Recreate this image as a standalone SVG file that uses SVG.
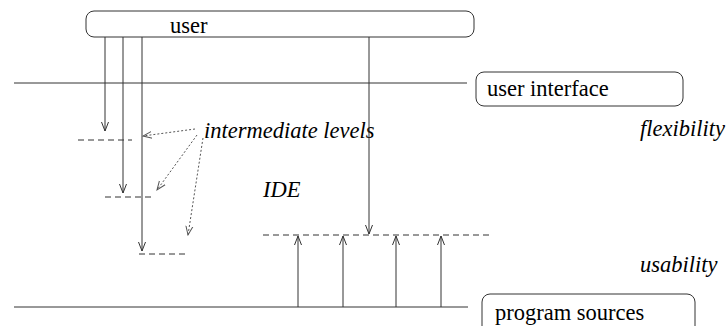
<svg xmlns="http://www.w3.org/2000/svg" width="727" height="326" viewBox="0 0 727 326">
<style>
.ln{stroke:#333;stroke-width:1;fill:none}
.dash{stroke:#333;stroke-width:1;fill:none;stroke-dasharray:6,4}
.dot{stroke:#555;stroke-width:1;fill:none;stroke-dasharray:2,2}
.box{stroke:#333;stroke-width:1;fill:#fff}
.t{font-family:"Liberation Serif",serif;font-size:22.5px;fill:#000}
.i{font-family:"Liberation Serif",serif;font-size:22.5px;font-style:italic;fill:#000}
</style>
<defs>
<marker id="ah" markerWidth="10" markerHeight="14" refX="9" refY="5" orient="auto" markerUnits="userSpaceOnUse">
<polyline points="0,1.5 9,5 0,8.5" fill="none" stroke="#333" stroke-width="1"/>
</marker>
<marker id="ahd" markerWidth="10" markerHeight="14" refX="9" refY="5" orient="auto" markerUnits="userSpaceOnUse">
<polyline points="0,1.5 9,5 0,8.5" fill="none" stroke="#555" stroke-width="1"/>
</marker>
</defs>
<g id="layers">
<line class="ln" x1="14" y1="83" x2="467" y2="83"/>
<line class="ln" x1="14" y1="307" x2="468" y2="307"/>
<line class="dash" x1="78" y1="140" x2="132" y2="140"/>
<line class="dash" x1="105" y1="197" x2="151" y2="197"/>
<line class="dash" x1="139" y1="254" x2="185" y2="254"/>
<line class="dash" x1="263" y1="235" x2="492" y2="235"/>
</g>
<g id="user">
<rect class="box" x="86" y="11" width="388" height="26" rx="8"/>
<text class="t" x="170" y="33">user</text>
</g>
<g id="user-interface">
<rect class="box" x="476" y="72" width="207" height="34" rx="8"/>
<text class="t" x="487" y="96">user interface</text>
</g>
<g id="program-sources">
<rect class="box" x="482" y="294" width="213" height="40" rx="8"/>
<text class="t" x="495" y="320">program sources</text>
</g>
<g id="labels">
<text class="i" x="204" y="138">intermediate levels</text>
<text class="i" x="263" y="197">IDE</text>
<text class="i" x="640" y="136">flexibility</text>
<text class="i" x="640" y="272">usability</text>
</g>
<g id="connectors">
<line class="ln" x1="105" y1="37" x2="105" y2="131" marker-end="url(#ah)"/>
<line class="ln" x1="123" y1="37" x2="123" y2="193" marker-end="url(#ah)"/>
<line class="ln" x1="142" y1="37" x2="142" y2="251" marker-end="url(#ah)"/>
<line class="ln" x1="369" y1="37" x2="369" y2="234" marker-end="url(#ah)"/>
<line class="ln" x1="298" y1="307" x2="298" y2="236" marker-end="url(#ah)"/>
<line class="ln" x1="343" y1="307" x2="343" y2="236" marker-end="url(#ah)"/>
<line class="ln" x1="396" y1="307" x2="396" y2="236" marker-end="url(#ah)"/>
<line class="ln" x1="441" y1="307" x2="441" y2="236" marker-end="url(#ah)"/>
<line class="dot" x1="195" y1="129" x2="143" y2="136" marker-end="url(#ahd)"/>
<line class="dot" x1="197" y1="135" x2="157" y2="190" marker-end="url(#ahd)"/>
<line class="dot" x1="203" y1="138" x2="188" y2="235" marker-end="url(#ahd)"/>
</g>
</svg>
